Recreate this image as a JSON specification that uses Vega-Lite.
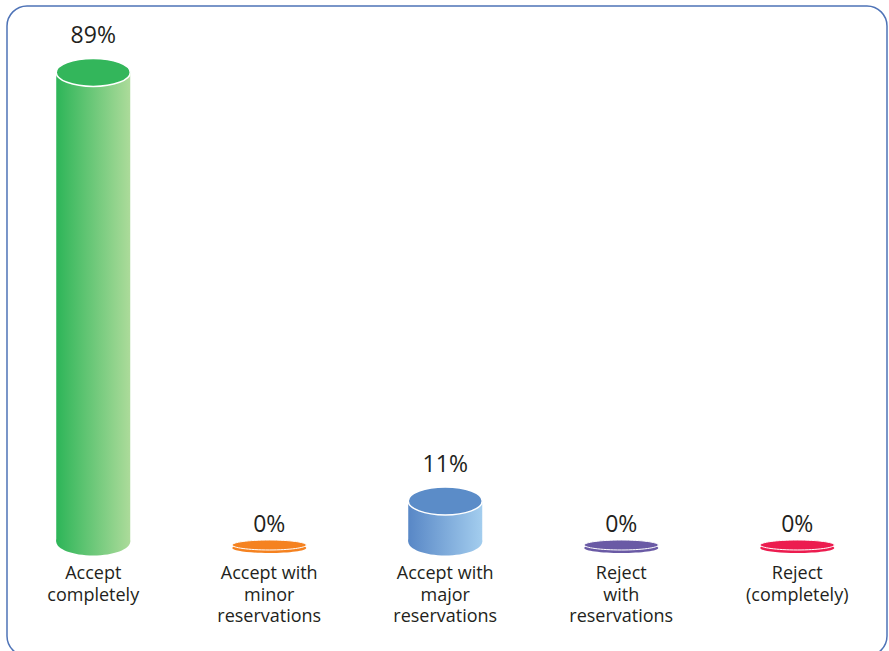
{
  "$schema": "https://vega.github.io/schema/vega-lite/v6.json",
  "width": 880,
  "height": 650,
  "autosize": {"type": "none"},
  "padding": {"left": 7, "top": 6, "right": 2, "bottom": -5},
  "background": "white",
  "config": {
    "view": {"stroke": "#4e73b7", "strokeWidth": 1.5, "cornerRadius": 20},
    "text": {"font": "Open Sans", "color": "#231f20"}
  },
  "data": {
    "values": [
      {"category": "Accept completely", "label": "Accept\ncompletely", "value": 0.89},
      {"category": "Accept with minor reservations", "label": "Accept with\nminor\nreservations", "value": 0},
      {"category": "Accept with major reservations", "label": "Accept with\nmajor\nreservations", "value": 0.11},
      {"category": "Reject with reservations", "label": "Reject\nwith\nreservations", "value": 0},
      {"category": "Reject (completely)", "label": "Reject\n(completely)", "value": 0}
    ]
  },
  "encoding": {
    "x": {
      "field": "category",
      "type": "nominal",
      "axis": null,
      "scale": {"type": "point", "padding": 0.5, "align": 0.49,
                "domain": ["Accept completely", "Accept with minor reservations", "Accept with major reservations", "Reject with reservations", "Reject (completely)"]}
    }
  },
  "layer": [
    {
      "transform": [{"filter": "datum.value > 0"}],
      "mark": {"type": "bar", "width": 74, "y2Offset": -20},
      "encoding": {
        "y": {"field": "value", "type": "quantitative", "axis": null,
              "scale": {"domain": [-0.1722, 1.0109], "nice": false, "zero": false}},
        "y2": {"datum": 0},
        "fill": {
          "condition": {"test": "datum.category === 'Accept completely'",
            "value": {"gradient": "linear", "x1": 0, "y1": 0, "x2": 1, "y2": 0, "stops": [{"offset": 0, "color": "#2db558"}, {"offset": 1, "color": "#acdb9a"}]}},
          "value": {"gradient": "linear", "x1": 0, "y1": 0, "x2": 1, "y2": 0, "stops": [{"offset": 0, "color": "#5887c6"}, {"offset": 1, "color": "#a3cdee"}]}
        }
      }
    },
    {
      "transform": [{"filter": "datum.value > 0"}],
      "mark": {"type": "point", "filled": true, "opacity": 1, "size": 5476, "yOffset": -20, "strokeWidth": 0,
               "shape": "M-1,0 A1,0.378 0 1,0 1,0 A1,0.378 0 1,0 -1,0 Z"},
      "encoding": {
        "y": {"datum": 0},
        "fill": {
          "condition": {"test": "datum.category === 'Accept completely'",
            "value": {"gradient": "linear", "x1": 0, "y1": 0, "x2": 1, "y2": 0, "stops": [{"offset": 0, "color": "#2db558"}, {"offset": 1, "color": "#acdb9a"}]}},
          "value": {"gradient": "linear", "x1": 0, "y1": 0, "x2": 1, "y2": 0, "stops": [{"offset": 0, "color": "#5887c6"}, {"offset": 1, "color": "#a3cdee"}]}
        }
      }
    },
    {
      "transform": [{"filter": "datum.value > 0"}],
      "mark": {"type": "point", "filled": true, "opacity": 1, "size": 5476, "stroke": "white", "strokeWidth": 1.5,
               "shape": "M-1,0 A1,0.378 0 1,0 1,0 A1,0.378 0 1,0 -1,0 Z"},
      "encoding": {
        "y": {"field": "value", "type": "quantitative"},
        "color": {
          "field": "category", "type": "nominal", "legend": null,
          "scale": {
            "domain": ["Accept completely", "Accept with minor reservations", "Accept with major reservations", "Reject with reservations", "Reject (completely)"],
            "range": ["#33b65b", "#f58220", "#5b8cc8", "#6a5aa5", "#ec1c4f"]
          }
        }
      }
    },
    {
      "transform": [{"filter": "datum.value == 0"}],
      "mark": {"type": "point", "filled": true, "opacity": 1, "size": 5476, "yOffset": -13.4, "strokeWidth": 0,
               "shape": "M-1,0 A1,0.135 0 1,0 1,0 A1,0.135 0 1,0 -1,0 Z"},
      "encoding": {
        "y": {"datum": 0},
        "color": {"field": "category", "type": "nominal", "legend": null}
      }
    },
    {
      "transform": [{"filter": "datum.value == 0"}],
      "mark": {"type": "point", "filled": true, "opacity": 1, "size": 5476, "yOffset": -16.4, "stroke": "white", "strokeWidth": 1,
               "shape": "M-1,0 A1,0.135 0 1,0 1,0 A1,0.135 0 1,0 -1,0 Z"},
      "encoding": {
        "y": {"datum": 0},
        "color": {"field": "category", "type": "nominal", "legend": null}
      }
    },
    {
      "mark": {"type": "text", "fontSize": 23, "baseline": "middle", "yOffset": -36},
      "encoding": {
        "y": {"field": "value", "type": "quantitative"},
        "text": {"field": "value", "type": "quantitative", "format": ".0%"}
      }
    },
    {
      "mark": {"type": "text", "fontSize": 18, "baseline": "top", "yOffset": 4, "lineBreak": "\n", "lineHeight": 21.5},
      "encoding": {
        "y": {"datum": 0},
        "text": {"field": "label", "type": "nominal"}
      }
    }
  ]
}
